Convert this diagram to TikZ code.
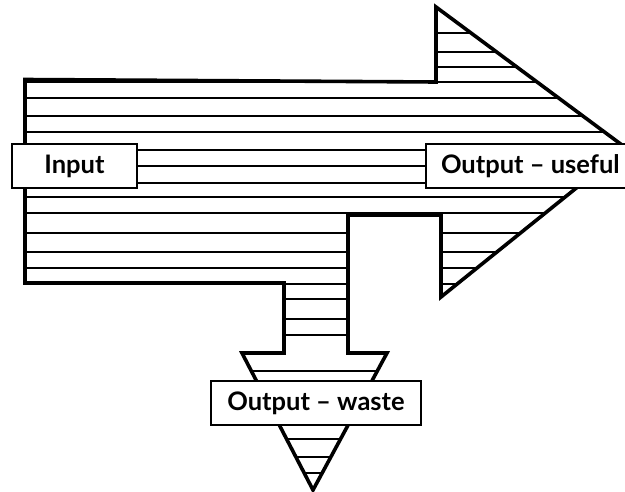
\documentclass[tikz,border=0pt]{standalone}
\usepackage{fontspec}
\setmainfont{Lato}
\begin{document}
\begin{tikzpicture}[x=1pt,y=-1pt,
  outline/.style={line width=3.6pt,line join=miter,miter limit=20},
  stripe/.style={line width=1.2pt},
  label/.style={draw,line width=2pt,fill=white,minimum height=44pt,inner sep=0pt,
    font=\fontsize{25.5}{27}\selectfont\bfseries}]
\useasboundingbox (0,0) rectangle (625,492);
\def\shapepath{(25,79.5) -- (436,82) -- (436,7) -- (626,148) -- (441,297) -- (441,215) -- (348,215) -- (348,353) -- (387,353) -- (313,490) -- (242,353) -- (284,353) -- (284,283) -- (25,283) -- cycle}
\fill[white] \shapepath;
\begin{scope}
  \clip \shapepath;
  \foreach \y in {33,52,67,82,98,116,132,150,166,183,197,213,233,252,268,284,299,319,335,371,388,405,422,439,457,473}
    \draw[stripe] (0,\y) -- (640,\y);
\end{scope}
\draw[outline] \shapepath;
\node[label,minimum width=125pt] (in) at (74.5,166) {Input};
\node[label,anchor=west,inner xsep=15pt,text width=195pt,align=flush left] (useful) at (425,166) {Output – useful};
\node[label,minimum width=210pt] (waste) at (316,403) {Output – waste};
\end{tikzpicture}
\end{document}
